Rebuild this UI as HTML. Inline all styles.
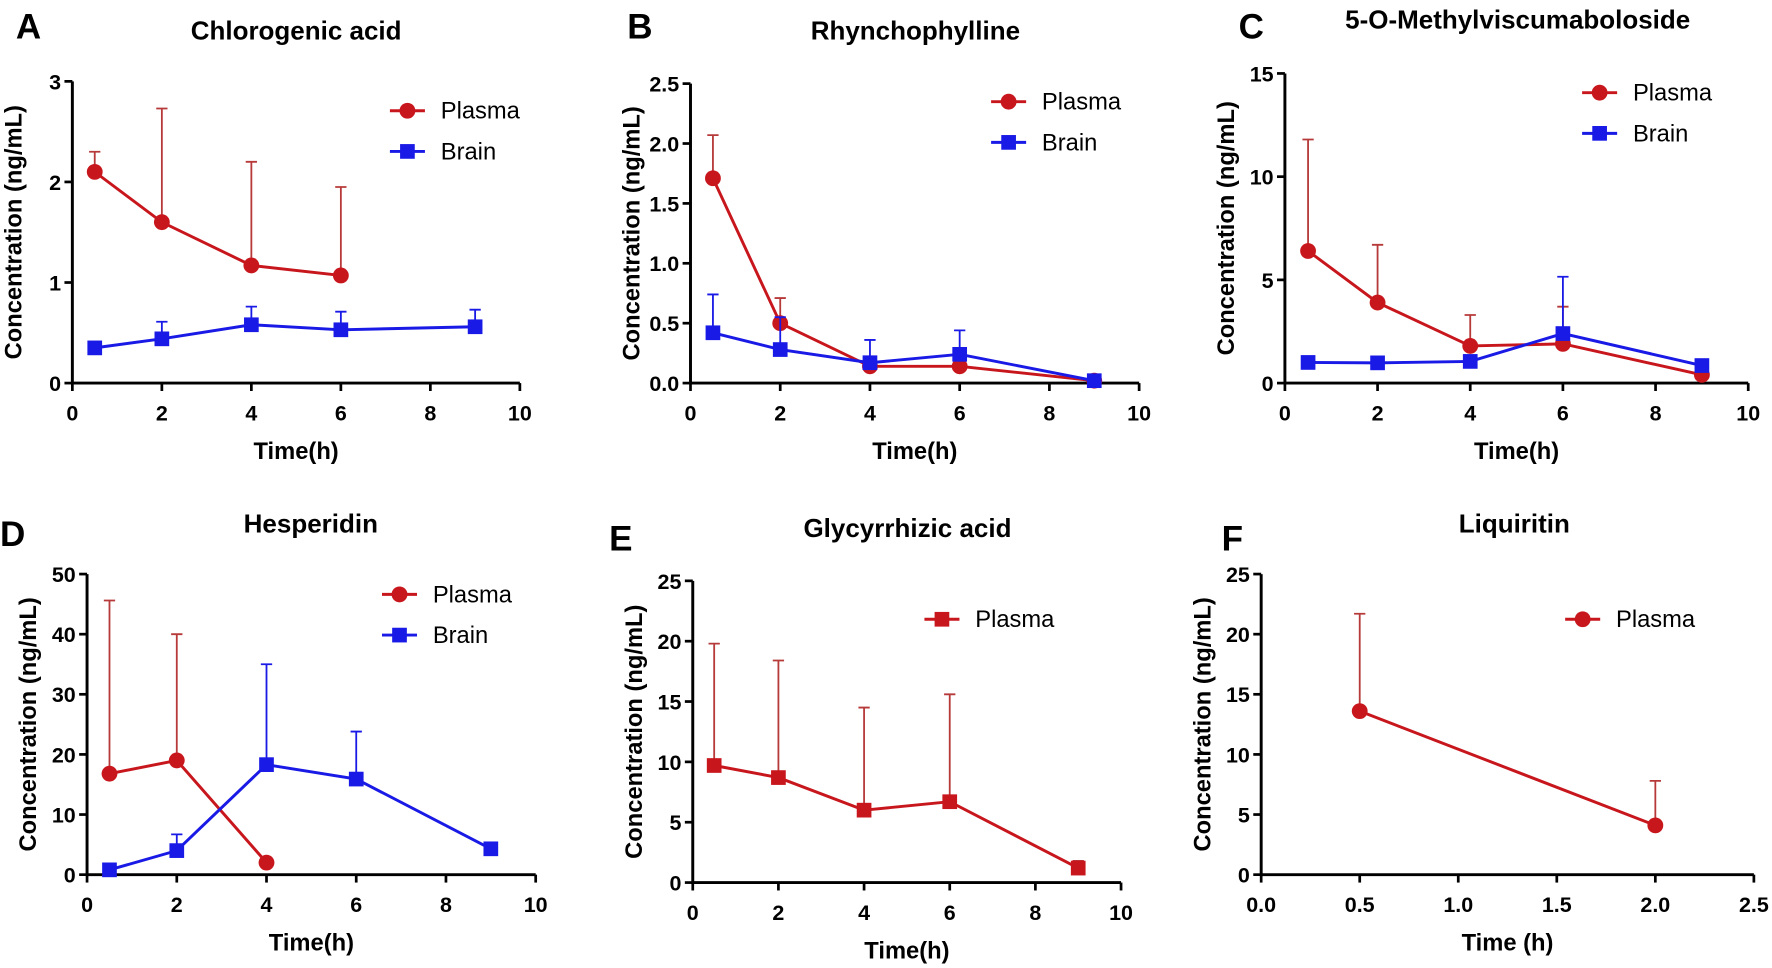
<!DOCTYPE html>
<html><head><meta charset="utf-8"><style>
html,body{margin:0;padding:0;background:#fff}
svg{display:block;font-family:"Liberation Sans",Arial,sans-serif}
</style></head><body>
<svg id="fig" width="1772" height="968" viewBox="0 0 1568 856.6" xmlns="http://www.w3.org/2000/svg"></svg>
<script>
// Panel A data
const aTimesP=[0.5,2,4,6], aPlasma=[2.1,1.6,1.17,1.07], aPlasmaErr=[2.3,2.73,2.2,1.95];
const aTimesB=[0.5,2,4,6,9], aBrain=[0.35,0.44,0.58,0.53,0.56], aBrainErr=[null,0.61,0.76,0.71,0.73];
const aYTicks=[0,1,2,3];
// Panel B data
const bTimes=[0.5,2,4,6,9], bPlasma=[1.71,0.5,0.14,0.14,0.02], bPlasmaErr=[2.07,0.71,null,null,null];
const bBrain=[0.42,0.28,0.17,0.24,0.02], bBrainErr=[0.74,0.55,0.36,0.44,null];
const bYTicks=[0,0.5,1.0,1.5,2.0,2.5];
// Panel C data
const cTimes=[0.5,2,4,6,9], cPlasma=[6.4,3.9,1.8,1.9,0.4], cPlasmaErr=[11.8,6.7,3.3,3.7,null];
const cBrain=[1.0,0.98,1.05,2.4,0.85], cBrainErr=[null,null,null,5.15,null];
const cYTicks=[0,5,10,15];
// Panel D data
const dTimesP=[0.5,2,4], dPlasma=[16.8,19,2], dPlasmaErr=[45.6,40,null];
const dTimesB=[0.5,2,4,6,9], dBrain=[0.8,4,18.3,15.9,4.3], dBrainErr=[null,6.7,35,23.8,null];
const dYTicks=[0,10,20,30,40,50];
// Panel E data
const eTimes=[0.5,2,4,6,9], ePlasma=[9.7,8.7,6.0,6.7,1.2], ePlasmaErr=[19.8,18.4,14.5,15.6,1.8];
const eYTicks=[0,5,10,15,20,25];
// Panel F data
const fTimes=[0.5,2], fPlasma=[13.6,4.1], fPlasmaErr=[21.7,7.8];
const fYTicks=[0,5,10,15,20,25];
const xTicks10=[0,2,4,6,8,10], xTicksF=[0,0.5,1.0,1.5,2.0,2.5];

const NS="http://www.w3.org/2000/svg", svg=document.getElementById('fig');
const RED="#c8161d", ERED="#b73a3a", BLUE="#1a1ae6";
function mk(tag,attrs,parent,text){const e=document.createElementNS(NS,tag);for(const k in attrs)e.setAttribute(k,attrs[k]);if(text!==undefined)e.textContent=text;(parent||svg).appendChild(e);return e;}

function panel(p){
  const g=mk('g',{});
  
  
  const X=v=>p.x0+(v-p.xmin)/(p.xmax-p.xmin)*(p.x1-p.x0);
  const Y=v=>p.y0-(v-0)/(p.ymax)*(p.y0-p.y1);
  let t=mk('text',{x:p.lx,y:p.ly,'font-size':31,'font-weight':'bold'},g,p.id);
  
  t=mk('text',{x:p.tx,y:p.ty,'font-size':23,'font-weight':'bold','text-anchor':'middle'},g,p.title);
  
  let a=mk('path',{d:`M${p.x0},${p.y1}V${p.y0}H${p.x1}`,stroke:'#000','stroke-width':2.6,fill:'none'},g);
  
  p.yt.forEach(v=>{const y=Y(v);
    mk('line',{x1:p.x0-7,x2:p.x0,y1:y,y2:y,stroke:'#000','stroke-width':2.4},g);
    const l=mk('text',{x:p.x0-10,y:y+7,'font-size':19,'font-weight':'bold','text-anchor':'end'},g,String(p.yfix===0?v:v.toFixed(p.yfix)));
    });
  p.xt.forEach(v=>{const x=X(v);
    mk('line',{x1:x,x2:x,y1:p.y0,y2:p.y0+7,stroke:'#000','stroke-width':2.4},g);
    const l=mk('text',{x:x,y:p.y0+33,'font-size':19,'font-weight':'bold','text-anchor':'middle'},g,p.xfix?v.toFixed(1):String(v));
    });
  t=mk('text',{x:(p.x0+p.x1)/2,y:p.y0+67,'font-size':21,'font-weight':'bold','text-anchor':'middle'},g,p.xlabel);
  
  const cy=(p.y0+p.y1)/2, cx=p.x0-45;
  t=mk('text',{x:cx,y:cy,'font-size':21,'font-weight':'bold','text-anchor':'middle',transform:`rotate(-90 ${cx} ${cy})`},g,'Concentration (ng/mL)');
  
  p.series.forEach((s,si)=>{
    const sg=mk('g',{},g);
    
    
    const ec=s.color===RED?ERED:s.color;
    s.t.forEach((tv,i)=>{if(s.err[i]!=null){const x=X(tv);
      mk('path',{d:`M${x},${Y(s.v[i])}V${Y(s.err[i])}M${x-5},${Y(s.err[i])}H${x+5}`,stroke:ec,'stroke-width':1.6,fill:'none'},sg);}});
    const d=s.t.map((tv,i)=>(i?'L':'M')+X(tv)+','+Y(s.v[i])).join('');
    const ln=mk('path',{d:d,stroke:s.color,'stroke-width':2.6,fill:'none'},sg);
    
    s.t.forEach((tv,i)=>{const x=X(tv),y=Y(s.v[i]);let m;
      if(s.shape==='circle')m=mk('circle',{cx:x,cy:y,r:7,fill:s.color},sg);
      else m=mk('rect',{x:x-6.5,y:y-6.5,width:13,height:13,fill:s.color},sg);
      });
    const lx=p.leg[0], ly=p.leg[1]+si*36;
    const lg=mk('g',{},g);
    
    mk('line',{x1:lx,x2:lx+31,y1:ly,y2:ly,stroke:s.color,'stroke-width':2.6},lg);
    if(s.shape==='circle')mk('circle',{cx:lx+15.5,cy:ly,r:7,fill:s.color},lg);
    else mk('rect',{x:lx+9,y:ly-6.5,width:13,height:13,fill:s.color},lg);
    mk('text',{x:lx+45,y:ly+7,'font-size':21},lg,s.name);
  });
}
panel({id:'A',title:'Chlorogenic acid',lx:14,ly:34,tx:262,ty:35,x0:64,x1:460,y0:339,y1:72,xmin:0,xmax:10,ymax:3,yt:aYTicks,yfix:0,xt:xTicks10,xlabel:'Time(h)',leg:[345,98],
 series:[{name:'Plasma',color:RED,shape:'circle',t:aTimesP,v:aPlasma,err:aPlasmaErr},{name:'Brain',color:BLUE,shape:'square',t:aTimesB,v:aBrain,err:aBrainErr}]});
panel({id:'B',title:'Rhynchophylline',lx:555,ly:34,tx:810,ty:35,x0:611,x1:1008,y0:339,y1:74,xmin:0,xmax:10,ymax:2.5,yt:bYTicks,yfix:1,xt:xTicks10,xlabel:'Time(h)',leg:[877,90],
 series:[{name:'Plasma',color:RED,shape:'circle',t:bTimes,v:bPlasma,err:bPlasmaErr},{name:'Brain',color:BLUE,shape:'square',t:bTimes,v:bBrain,err:bBrainErr}]});
panel({id:'C',title:'5-O-Methylviscumaboloside',lx:1096,ly:34,tx:1343,ty:25,x0:1137,x1:1547,y0:339,y1:65,xmin:0,xmax:10,ymax:15,yt:cYTicks,yfix:0,xt:xTicks10,xlabel:'Time(h)',leg:[1400,82],
 series:[{name:'Plasma',color:RED,shape:'circle',t:cTimes,v:cPlasma,err:cPlasmaErr},{name:'Brain',color:BLUE,shape:'square',t:cTimes,v:cBrain,err:cBrainErr}]});
panel({id:'D',title:'Hesperidin',lx:0,ly:483,tx:275,ty:471,x0:77,x1:474,y0:774,y1:508,xmin:0,xmax:10,ymax:50,yt:dYTicks,yfix:0,xt:xTicks10,xlabel:'Time(h)',leg:[338,526],
 series:[{name:'Plasma',color:RED,shape:'circle',t:dTimesP,v:dPlasma,err:dPlasmaErr},{name:'Brain',color:BLUE,shape:'square',t:dTimesB,v:dBrain,err:dBrainErr}]});
panel({id:'E',title:'Glycyrrhizic acid',lx:539,ly:487,tx:803,ty:475,x0:613,x1:992,y0:781,y1:514,xmin:0,xmax:10,ymax:25,yt:eYTicks,yfix:0,xt:xTicks10,xlabel:'Time(h)',leg:[818,548],
 series:[{name:'Plasma',color:RED,shape:'square',t:eTimes,v:ePlasma,err:ePlasmaErr}]});
panel({id:'F',title:'Liquiritin',lx:1081,ly:487,tx:1340,ty:471,x0:1116,x1:1552,y0:774,y1:508,xmin:0,xmax:2.5,ymax:25,yt:fYTicks,yfix:0,xt:xTicksF,xfix:true,xlabel:'Time (h)',leg:[1385,548],
 series:[{name:'Plasma',color:RED,shape:'circle',t:fTimes,v:fPlasma,err:fPlasmaErr}]});
</script>
</body></html>
